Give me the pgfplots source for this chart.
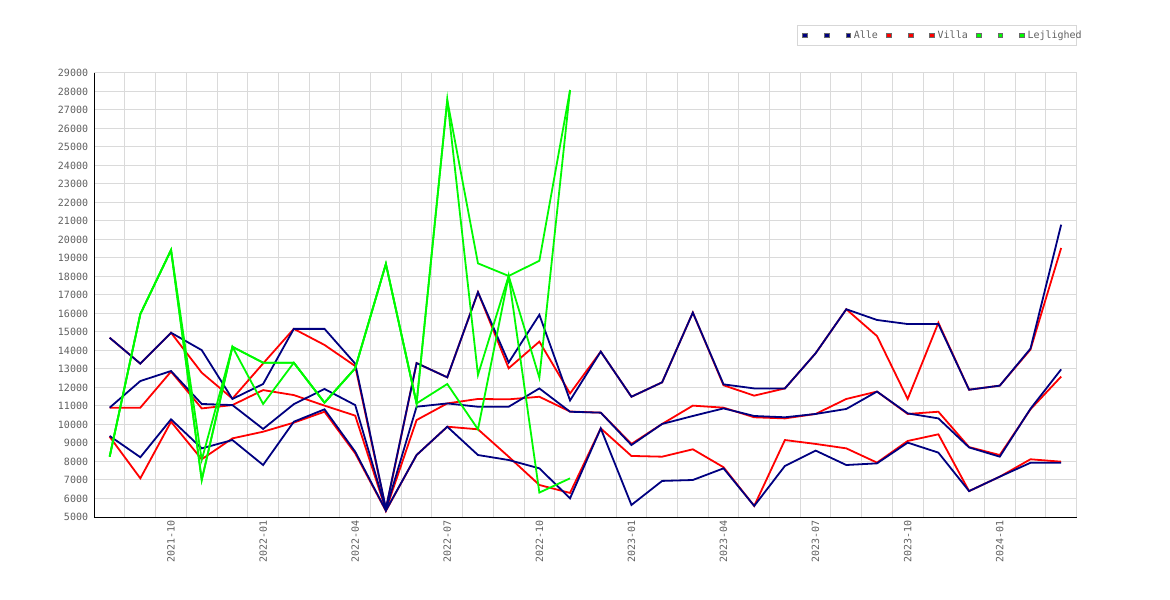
\documentclass[border=0pt]{standalone}
\usepackage{pgfplots}
\pgfplotsset{compat=1.18}
\usepackage{pgfplotstable}
\usepackage{fontspec}
\setmonofont{DejaVu Sans Mono}
\definecolor{navyc}{RGB}{0,0,128}
\definecolor{redc}{RGB}{255,0,0}
\definecolor{greenc}{RGB}{0,250,0}
\definecolor{gridc}{RGB}{218,218,218}
\definecolor{txtc}{RGB}{96,96,96}
\definecolor{legb}{RGB}{215,215,215}
\definecolor{sqb}{RGB}{105,105,105}

\pgfplotstableread{
i amax amean amin vmax vmean vmin
0 14690 10910 9380 14690 10910 9340
1 13290 12350 8230 13290 10910 7090
2 14960 12890 10280 14960 12860 10150
3 14020 11110 8710 12800 10870 8120
4 11380 11050 9160 11400 11050 9250
5 12190 9760 7810 13300 11860 9610
6 15170 11100 10150 15170 11590 10100
7 15170 11920 10820 14300 11020 10690
8 13290 11050 8530 13160 10480 8440
9 5470 5400 5350 5420 5380 5330
10 13320 10960 8350 13320 10240 8350
11 12550 11140 9880 12550 11140 9880
12 17150 10960 8350 17150 11380 9740
13 13350 10960 8080 13040 11360 8260
14 15930 11950 7630 14480 11500 6730
15 11300 10690 6010 11680 10700 6300
16 13940 10640 9790 13940 10640 9790
17 11500 8890 5650 11500 8950 8300
18 12280 10030 6950 12280 10030 8260
19 16050 10460 7000 16050 11020 8660
20 12170 10870 7630 12120 10910 7690
21 11950 10460 5600 11560 10390 5600
22 11950 10390 7760 11950 10330 9160
23 13850 10570 8590 13850 10570 8950
24 16230 10840 7810 16230 11380 8710
25 15650 11780 7900 14780 11780 7940
26 15430 10600 9020 11380 10570 9110
27 15430 10330 8480 15500 10690 9470
28 11880 8760 6400 11880 8780 6400
29 12100 8260 7180 12100 8350 7180
30 14100 10850 7930 14050 10820 8120
31 20800 12980 7930 19540 12590 7990
}\dataav

\pgfplotstableread{
i lmax lmid lmin
0 8260 8260 8260
1 15970 15970 15970
2 19430 19430 19430
3 8080 7000 7000
4 14200 14200 14200
5 13340 13340 11110
6 13340 13340 13340
7 11180 11180 11180
8 13040 13040 13040
9 18680 18680 18680
10 11140 11140 11140
11 27540 27540 12190
12 18710 12680 9740
13 18030 18030 18030
14 18850 12530 6320
15 28080 28080 7090
}\datal

\newcommand{\lfont}{\ttfamily\fontsize{10bp}{12bp}\selectfont}

\begin{document}
\begin{tikzpicture}
\useasboundingbox (-94.3bp,-83bp) rectangle (1075.7bp,517bp);
\begin{axis}[
  at={(0,0)}, anchor=south west,
  scale only axis, width=982.2bp, height=444bp,
  xmin=-0.5, xmax=31.5, ymin=5000, ymax=29000,
  axis x line*=bottom, axis y line*=left,
  axis line style={-, black, line width=1bp},
  xtick={2,5,...,29},
  xticklabels={2021-10,2022-01,2022-04,2022-07,2022-10,2023-01,2023-04,2023-07,2023-10,2024-01},
  minor xtick={0.5,1.5,...,31.5},
  ytick={5000,6000,...,29000},
  scaled y ticks=false,
  yticklabel={\pgfmathprintnumber[fixed,precision=0,1000 sep={},assume math mode=true]{\tick}},
  ymajorgrids, xminorgrids,
  major grid style={gridc, line width=1bp},
  minor grid style={gridc, line width=1bp},
  major tick length=0pt, minor tick length=0pt,
  tick style={draw=none},
  tick label style={font=\lfont, text=txtc},
  /pgf/number format/assume math mode=true,
  /pgf/number format/1000 sep={},
  yticklabel style={xshift=-2.7bp},
  xticklabel style={rotate=90, anchor=east},
  sq/.style={legend image code/.code={\draw[line width=0.8bp, draw=sqb, fill=#1] (0.4bp,-2.4bp) rectangle (5.2bp,2.4bp);}},
  legend columns=9,
  legend style={at={(rel axis cs:1,1)}, anchor=south east, xshift=0.5bp, yshift=27bp,
    draw=legb, line width=1bp, fill=white, inner xsep=4.3bp, inner ysep=3.75bp,
    font=\lfont, text=txtc,
    nodes={inner xsep=2.7bp, inner ysep=1.5bp, text height=7.5bp, text depth=2bp},
    /tikz/every even column/.append style={column sep=5.3bp}},
]
\addlegendimage{sq=navyc}\addlegendentry{\hspace*{5.4bp}}
\addlegendimage{sq=navyc}\addlegendentry{\hspace*{5.4bp}}
\addlegendimage{sq=navyc}\addlegendentry{Alle}
\addlegendimage{sq=redc}\addlegendentry{\hspace*{5.4bp}}
\addlegendimage{sq=redc}\addlegendentry{\hspace*{5.4bp}}
\addlegendimage{sq=redc}\addlegendentry{Villa}
\addlegendimage{sq=greenc}\addlegendentry{\hspace*{5.4bp}}
\addlegendimage{sq=greenc}\addlegendentry{\hspace*{5.4bp}}
\addlegendimage{sq=greenc}\addlegendentry{\makebox[42bp][l]{Lejlighed}}

\addplot[redc, line width=1.8bp, forget plot] table[x=i, y=vmax] {\dataav};
\addplot[redc, line width=1.8bp, forget plot] table[x=i, y=vmean] {\dataav};
\addplot[redc, line width=1.8bp, forget plot] table[x=i, y=vmin] {\dataav};
\addplot[navyc, line width=1.8bp, forget plot] table[x=i, y=amax] {\dataav};
\addplot[navyc, line width=1.8bp, forget plot] table[x=i, y=amean] {\dataav};
\addplot[navyc, line width=1.8bp, forget plot] table[x=i, y=amin] {\dataav};
\addplot[greenc, line width=1.8bp, forget plot] table[x=i, y=lmax] {\datal};
\addplot[greenc, line width=1.8bp, forget plot] table[x=i, y=lmid] {\datal};
\addplot[greenc, line width=1.8bp, forget plot] table[x=i, y=lmin] {\datal};
\end{axis}
\end{tikzpicture}
\end{document}
